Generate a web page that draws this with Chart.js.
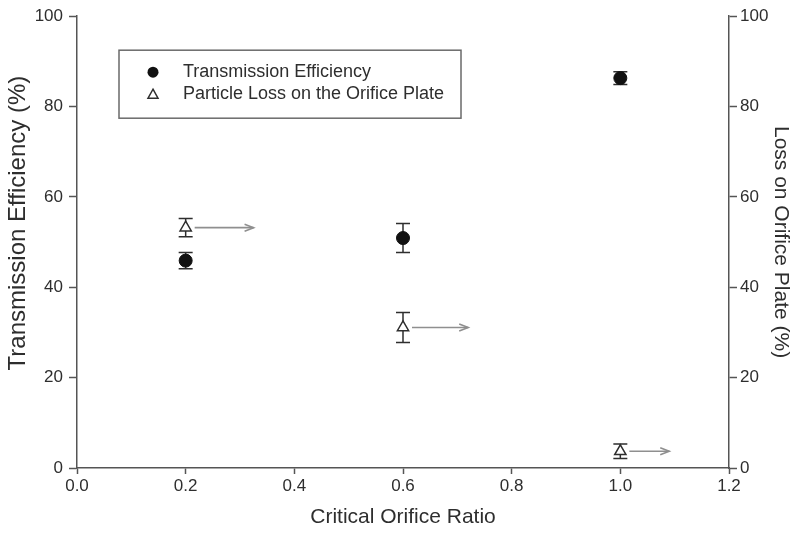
<!DOCTYPE html>
<html lang="en">
  <head>
    <meta charset="UTF-8" />
    <title>Critical Orifice Ratio</title>
    <script src="https://cdn.jsdelivr.net/npm/chart.js@4.4.0/dist/chart.umd.min.js"></script>
    <style>
      html, body { margin: 0; padding: 0; background: #fff; }
      #wrap { width: 800px; height: 534px; }
    </style>
  </head>
  <body>
    <div id="wrap"><canvas id="chart"></canvas></div>

    <script>
      // values
      const ratios = [0.2, 0.6, 1.0];
      const efficiency = [45.9, 50.9, 86.3];
      const efficiencyErr = [1.8, 3.2, 1.4];
      const plateLoss = [53.2, 31.1, 3.7];
      const plateLossErr = [2.0, 3.3, 1.6];
      // arrows point from the triangles to the right-hand axis
      const arrowEnds = [0.325, 0.72, 1.09];

      const xTicks = [0, 0.2, 0.4, 0.6, 0.8, 1.0, 1.2];
      const yTicks = [0, 20, 40, 60, 80, 100];

      const FONT = "'Liberation Sans', Arial, sans-serif";
      const INK = "#2e2e2e";
      const AXIS = "#555";
      const leftTitle = "Transmission Efficiency (%)";

      const effPoints = ratios.map((x, i) => ({ x: x, y: efficiency[i], err: efficiencyErr[i] }));
      const lossPoints = ratios.map((x, i) => ({ x: x, y: plateLoss[i], err: plateLossErr[i] }));

      // error bars, arrows, boxed legend and the left title (sits a bit above centre)
      const extras = {
        id: "extras",
        beforeDatasetsDraw(chart) {
          const ctx = chart.ctx;
          const xs = chart.scales.x;
          ctx.save();
          // arrows
          ctx.strokeStyle = "#8f8f8f";
          ctx.lineWidth = 1.6;
          lossPoints.forEach((p, i) => {
            const y = chart.scales.y2.getPixelForValue(p.y);
            const x0 = xs.getPixelForValue(p.x) + 9;
            const x1 = xs.getPixelForValue(arrowEnds[i]);
            ctx.beginPath();
            ctx.moveTo(x0, y);
            ctx.lineTo(x1, y);
            ctx.stroke();
            ctx.beginPath();
            ctx.moveTo(x1 - 9, y - 3.5);
            ctx.lineTo(x1, y);
            ctx.lineTo(x1 - 9, y + 3.5);
            ctx.stroke();
          });
          // error bars
          ctx.strokeStyle = INK;
          ctx.lineWidth = 1.5;
          const bars = (pts, scale) => {
            pts.forEach((p) => {
              const x = xs.getPixelForValue(p.x);
              const top = scale.getPixelForValue(p.y + p.err);
              const bot = scale.getPixelForValue(p.y - p.err);
              ctx.beginPath();
              ctx.moveTo(x, top);
              ctx.lineTo(x, bot);
              ctx.moveTo(x - 7, top);
              ctx.lineTo(x + 7, top);
              ctx.moveTo(x - 7, bot);
              ctx.lineTo(x + 7, bot);
              ctx.stroke();
            });
          };
          bars(effPoints, chart.scales.y);
          bars(lossPoints, chart.scales.y2);
          ctx.restore();
        },
        afterDraw(chart) {
          const ctx = chart.ctx;
          const a = chart.chartArea;
          ctx.save();
          // left axis title
          ctx.translate(18, (a.top + a.bottom) / 2 - 19);
          ctx.rotate(-Math.PI / 2);
          ctx.font = "24px " + FONT;
          ctx.fillStyle = INK;
          ctx.textAlign = "center";
          ctx.textBaseline = "middle";
          ctx.fillText(leftTitle, 0, 0);
          ctx.restore();

          // legend
          const bx = a.left + 42, by = a.top + 34, bw = 342, bh = 68;
          ctx.save();
          ctx.strokeStyle = "#6a6a6a";
          ctx.lineWidth = 1.5;
          ctx.strokeRect(bx, by, bw, bh);
          ctx.font = "18px " + FONT;
          ctx.textBaseline = "middle";
          chart.data.datasets.forEach((ds, i) => {
            const y = by + 22 + i * 22;
            const mx = bx + 34;
            ctx.lineWidth = 1.5;
            ctx.strokeStyle = INK;
            if (ds.pointStyle === "circle") {
              ctx.beginPath();
              ctx.arc(mx, y, 5.5, 0, Math.PI * 2);
              ctx.fillStyle = "#111";
              ctx.fill();
            } else {
              ctx.beginPath();
              ctx.moveTo(mx, y - 5);
              ctx.lineTo(mx + 5, y + 4);
              ctx.lineTo(mx - 5, y + 4);
              ctx.closePath();
              ctx.stroke();
            }
            ctx.fillStyle = INK;
            ctx.fillText(ds.label, bx + 64, y);
          });
          ctx.restore();
        },
      };

      const tickFont = { family: FONT, size: 17 };
      const xTitleFont = { family: FONT, size: 21 };
      const rightTitleFont = { family: FONT, size: 21 };
      const gridOpts = { drawOnChartArea: false, tickLength: 8, color: AXIS, tickWidth: 1.5 };

      new Chart(document.getElementById("chart"), {
        type: "scatter",
        data: {
          datasets: [
            {
              label: "Transmission Efficiency",
              data: effPoints,
              yAxisID: "y",
              pointStyle: "circle",
              pointRadius: 6.5,
              backgroundColor: "#111",
              borderColor: "#111",
              borderWidth: 1,
            },
            {
              label: "Particle Loss on the Orifice Plate",
              data: lossPoints,
              yAxisID: "y2",
              pointStyle: "triangle",
              pointRadius: 6.5,
              backgroundColor: "#fff",
              borderColor: INK,
              borderWidth: 1.5,
            },
          ],
        },
        options: {
          responsive: true,
          maintainAspectRatio: false,
          animation: false,
          layout: { padding: { top: 16 } },
          plugins: { legend: { display: false }, tooltip: { enabled: false } },
          scales: {
            x: {
              type: "linear",
              min: 0,
              max: 1.2,
              afterBuildTicks: (s) => { s.ticks = xTicks.map((v) => ({ value: v })); },
              afterFit: (s) => { s.height = 66; },
              ticks: { color: INK, font: tickFont, padding: 2, callback: (v) => v.toFixed(1) },
              grid: Object.assign({}, gridOpts, { tickLength: 6 }),
              border: { color: AXIS, width: 1.5 },
              title: { display: true, text: "Critical Orifice Ratio", color: INK, font: xTitleFont, padding: { bottom: 4 } },
            },
            y: {
              position: "left",
              min: 0,
              max: 100,
              afterBuildTicks: (s) => { s.ticks = yTicks.map((v) => ({ value: v })); },
              afterFit: (s) => { s.width = 77; },
              ticks: { color: INK, font: tickFont, padding: 6 },
              grid: gridOpts,
              border: { color: AXIS, width: 1.5 },
              title: { display: false },
            },
            y2: {
              position: "right",
              min: 0,
              max: 100,
              afterBuildTicks: (s) => { s.ticks = yTicks.map((v) => ({ value: v })); },
              afterFit: (s) => { s.width = 71; },
              ticks: { color: INK, font: tickFont, padding: 3 },
              grid: gridOpts,
              border: { color: AXIS, width: 1.5 },
              title: { display: true, text: "Loss on Orifice Plate (%)", color: INK, font: rightTitleFont, padding: { top: 7 } },
            },
          },
        },
        plugins: [extras],
      });
    </script>
  </body>
</html>
